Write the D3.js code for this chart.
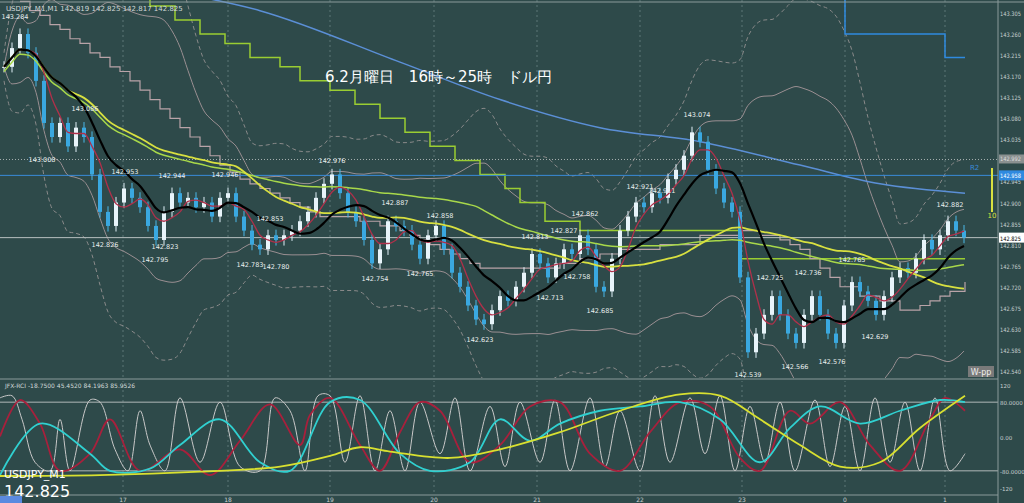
<!DOCTYPE html><html><head><meta charset="utf-8">
<script src="https://cdn.jsdelivr.net/npm/d3@7"></script>
<style>body{margin:0;background:#2e4a4a;overflow:hidden}text{font-family:"DejaVu Sans",sans-serif}</style></head><body>
<svg id="c" width="1024" height="503"></svg>
<script>
const closes=[143.19,143.23,143.26,143.22,143.16,143.07,143.04,143.07,143.02,143.06,143.04,142.96,142.88,142.85,142.90,142.93,142.91,142.89,142.85,142.82,142.88,142.92,142.90,142.91,142.89,142.90,142.87,142.91,142.92,142.87,142.84,142.81,142.80,142.83,142.82,142.83,142.84,142.86,142.88,142.91,142.94,142.96,142.92,142.88,142.86,142.82,142.77,142.80,142.86,142.85,142.84,142.81,142.78,142.83,142.85,142.80,142.75,142.72,142.68,142.65,142.64,142.67,142.70,142.69,142.72,142.75,142.79,142.77,142.74,142.77,142.80,142.79,142.83,142.80,142.72,142.71,142.78,142.84,142.87,142.90,142.89,142.92,142.91,142.95,142.97,143.00,143.05,143.03,142.97,142.93,142.90,142.88,142.74,142.58,142.62,142.66,142.70,142.66,142.62,142.60,142.66,142.70,142.66,142.62,142.60,142.68,142.73,142.71,142.69,142.66,142.70,142.74,142.76,142.75,142.78,142.82,142.80,142.83,142.86,142.84,142.825];
const priceTicks=[143.305,143.260,143.215,143.170,143.125,143.080,143.035,142.990,142.945,142.900,142.855,142.810,142.765,142.720,142.675,142.630,142.585,142.540];
const timeLabels=[["17",123],["18",228],["19",330],["20",434],["21",537],["22",640],["23",742],["0",845],["1",945]];
const priceNotes=[[15,143.284,"143.284"],[85,143.086,"143.086"],[42,143.008,"143.008"],[125,142.953,"142.953"],[105,142.826,"142.826"],[172,142.944,"142.944"],[165,142.823,"142.823"],[155,142.795,"142.795"],[225,142.946,"142.946"],[250,142.783,"142.783"],[276,142.780,"142.780"],[270,142.853,"142.853"],[332,142.976,"142.976"],[375,142.754,"142.754"],[395,142.887,"142.887"],[420,142.765,"142.765"],[440,142.858,"142.858"],[480,142.623,"142.623"],[535,142.813,"142.813"],[550,142.713,"142.713"],[564,142.827,"142.827"],[585,142.862,"142.862"],[577,142.758,"142.758"],[600,142.685,"142.685"],[640,142.921,"142.921"],[662,142.911,"142.911"],[697,143.074,"143.074"],[748,142.549,"142.539"],[770,142.725,"142.725"],[795,142.566,"142.566"],[808,142.736,"142.736"],[832,142.576,"142.576"],[852,142.765,"142.765"],[875,142.629,"142.629"],[950,142.882,"142.882"]];
const greenStep=[[150,143.40],[150,143.32],[175,143.32],[175,143.29],[200,143.29],[200,143.26],[225,143.26],[225,143.24],[250,143.24],[250,143.21],[280,143.21],[280,143.19],[300,143.19],[300,143.16],[330,143.16],[330,143.14],[355,143.14],[355,143.11],[380,143.11],[380,143.08],[405,143.08],[405,143.05],[430,143.05],[430,143.02],[455,143.02],[455,142.99],[480,142.99],[480,142.96],[505,142.96],[505,142.93],[520,142.93],[520,142.90],[545,142.90],[545,142.86],[580,142.86],[580,142.84],[740,142.84],[740,142.78],[965,142.78]];
const pinkStep=[[20,143.33],[30,143.31],[40,143.30],[50,143.28],[60,143.27],[70,143.25],[80,143.24],[90,143.22],[100,143.21],[110,143.19],[120,143.18],[130,143.16],[140,143.14],[150,143.12],[160,143.10],[170,143.08],[180,143.06],[190,143.04],[200,143.02],[210,143.00],[220,142.98],[230,142.965],[240,142.95],[250,142.94],[260,142.93],[270,142.92],[280,142.91],[290,142.90],[300,142.89],[310,142.88],[320,142.87],[340,142.87],[360,142.86],[380,142.85],[400,142.84],[410,142.83],[420,142.82],[430,142.81],[440,142.80],[450,142.79],[460,142.78],[470,142.77],[480,142.76],[540,142.76],[560,142.77],[580,142.78],[600,142.79],[620,142.80],[660,142.81],[700,142.83],[740,142.84],[760,142.83],[780,142.82],[790,142.81],[800,142.80],[810,142.78],[820,142.76],[830,142.74],[840,142.72],[860,142.70],[880,142.69],[900,142.67],[920,142.68],[930,142.69],[940,142.70],[950,142.71],[965,142.73]];
const blueMA=[[0,143.42],[150,143.36],[260,143.31],[400,143.20],[500,143.12],[600,143.06],[700,143.03],[800,142.98],[880,142.94],[965,142.92]];
const blueTop=[[845,143.40],[845,143.26],[945,143.26],[945,143.21],[965,143.21]];
const rciYellow=[[0,-92],[100,-90],[200,-82],[280,-70],[330,-45],[360,-25],[390,-35],[450,-50],[500,-30],[560,10],[620,60],[680,98],[720,95],[760,40],[800,-20],[840,-70],[880,-60],[920,20],[965,95]];
const rciCyan=[[0,-90],[40,30],[90,-40],[110,-80],[150,-75],[180,-20],[220,40],[260,-60],[290,-80],[330,80],[360,85],[400,-40],[430,-80],[470,-60],[500,40],[530,-10],[560,30],[600,60],[640,70],[680,80],[720,40],[760,-60],[790,20],[820,70],[860,30],[900,60],[940,85],[965,80]];
const rciRed=[[0,0],[20,85],[40,30],[60,-80],[90,-40],[110,40],[140,-80],[180,-30],[210,-90],[240,-10],[270,75],[300,-20],[310,50],[330,90],[360,-20],[380,-80],[400,10],[420,80],[440,60],[470,-60],[500,-20],[530,70],[560,80],[590,-40],[620,-80],[650,10],[680,80],[710,70],[740,-50],[760,-80],[790,60],[810,30],[840,80],[870,-20],[900,-80],[930,40],[945,90],[965,60]];
const rciWhite=[[0,90],[12,95],[22,40],[35,-60],[50,-80],[60,40],[70,-80],[90,85],[100,80],[115,-30],[128,-80],[140,60],[150,-20],[165,-80],[180,90],[200,-60],[220,80],[240,-70],[260,-80],[275,90],[290,60],[305,-80],[318,95],[330,95],[345,-60],[360,95],[375,-80],[390,60],[405,-80],[420,80],[440,-40],[455,90],[470,-80],[490,70],[505,-70],[520,80],[540,-60],[555,85],[570,-80],[590,90],[605,-70],[620,60],[640,-80],[655,95],[670,-60],[690,90],[705,-40],[720,95],[735,-80],[750,70],[765,-60],[780,80],[795,-80],[815,85],[830,-70],[845,70],[860,-80],[875,90],[890,-60],[905,80],[920,-80],[935,90],[950,-80],[965,-40]];

const svg=d3.select("#c");
const W=998;
const y=d3.scaleLinear().domain([142.540,143.305]).range([371,13]);
const ys=d3.scaleLinear().domain([-120,120]).range([488,385]);
svg.append("rect").attr("width",1024).attr("height",503).attr("fill","#2e4a4a");
svg.append("clipPath").attr("id","mc").append("rect").attr("x",0).attr("y",0).attr("width",W).attr("height",378);
svg.append("clipPath").attr("id","sc").append("rect").attr("x",0).attr("y",381).attr("width",W).attr("height",113);
const m=svg.append("g").attr("clip-path","url(#mc)");
const s=svg.append("g").attr("clip-path","url(#sc)");
timeLabels.forEach(([t,x])=>{
 [m,s].forEach(g=>g.append("line").attr("x1",x).attr("x2",x).attr("y1",0).attr("y2",503).attr("stroke","#5d7777").attr("stroke-dasharray","2,3"));
});
svg.append("line").attr("x1",W).attr("x2",W).attr("y1",0).attr("y2",503).attr("stroke","#8a9a9a");
svg.append("line").attr("x1",0).attr("x2",W).attr("y1",379).attr("y2",379).attr("stroke","#8a9a9a");
svg.append("line").attr("x1",0).attr("x2",W).attr("y1",495).attr("y2",495).attr("stroke","#8a9a9a");
svg.append("line").attr("x1",0).attr("x2",1024).attr("y1",2).attr("y2",2).attr("stroke","#8a9a9a");
const xi=i=>i*8+4;
const ma=(p)=>closes.map((c,i)=>d3.mean(closes.slice(Math.max(0,i-p+1),i+1)));
const sd=(p)=>closes.map((c,i)=>d3.deviation(closes.slice(Math.max(0,i-p+1),i+1))||0);
const line=d3.line().curve(d3.curveMonotoneX);
const maLine=(arr,col,w,dash)=>m.append("path").attr("d",line(arr.map((v,i)=>[xi(i),y(v)]))).attr("fill","none").attr("stroke",col).attr("stroke-width",w).attr("stroke-dasharray",dash||null);
const b=ma(21),sdv=sd(21);
maLine(b.map((v,i)=>v+2*sdv[i]),"#9a8f92",1);
maLine(b.map((v,i)=>v-2*sdv[i]),"#9a8f92",1);
maLine(b.map((v,i)=>v+3*sdv[i]+0.03),"#8a8a8a",1,"4,3");
maLine(b.map((v,i)=>v-3*sdv[i]-0.03),"#8a8a8a",1,"4,3");
const pl=d3.line();
m.append("path").attr("d",pl(greenStep.map(d=>[d[0],y(d[1])]))).attr("fill","none").attr("stroke","#9acd32").attr("stroke-width",1.5);
m.append("path").attr("d",d3.line().curve(d3.curveStepAfter)(pinkStep.map(d=>[d[0],y(d[1])]))).attr("fill","none").attr("stroke","#b9a3a8").attr("stroke-width",1.2);
m.append("path").attr("d",line(blueMA.map(d=>[d[0],y(d[1])]))).attr("fill","none").attr("stroke","#5b8fd6").attr("stroke-width",1.5);
m.append("path").attr("d",pl(blueTop.map(d=>[d[0],y(d[1])]))).attr("fill","none").attr("stroke","#2f8ae0").attr("stroke-width",1.5);
m.append("line").attr("x1",0).attr("x2",W).attr("y1",y(142.992)).attr("y2",y(142.992)).attr("stroke","#a8b0b0").attr("stroke-dasharray","1,2");
m.append("line").attr("x1",0).attr("x2",W).attr("y1",y(142.958)).attr("y2",y(142.958)).attr("stroke","#3a8ad8");
m.append("line").attr("x1",0).attr("x2",W).attr("y1",y(142.825)).attr("y2",y(142.825)).attr("stroke","#b8c0c0");
closes.forEach((c,i)=>{
 const o=i?closes[i-1]:c;const hi=Math.max(o,c)+0.012,lo=Math.min(o,c)-0.012;
 const up=c>=o;
 m.append("line").attr("x1",xi(i)).attr("x2",xi(i)).attr("y1",y(hi)).attr("y2",y(lo)).attr("stroke",up?"#e0f0f8":"#4ab8e8");
 m.append("rect").attr("x",xi(i)-2).attr("width",4).attr("y",y(Math.max(o,c))).attr("height",Math.max(1,Math.abs(y(o)-y(c)))).attr("fill",up?"#e8f4fa":"#3aa8e0");
});
maLine(ma(60).map((v,i)=>v-0.01),"#a8d84a",1.5);
maLine(ma(30),"#d8e040",1.8);
maLine(ma(4),"#b0304a",1.3);
maLine(ma(9),"#000000",2.2);
const above=[142.953,142.944,142.946,142.853,142.887,142.858,142.813,142.827,142.862,142.921,142.911,142.725,142.736,142.765,142.882,143.284,143.086,142.976,143.074];
priceNotes.forEach(([x,v,t])=>{
 const hi=above.includes(v)&&!(x===420);
 m.append("text").attr("x",x).attr("y",y(v)+(hi?-4:10)).attr("text-anchor","middle").attr("font-size",6.5).attr("fill","#e8eeee").text(t);
});
m.append("text").attr("x",6).attr("y",11).attr("font-size",7).attr("fill","#d0d8d8").text("USDJPY_M1,M1  142.819 142.825 142.817 142.825");
m.append("text").attr("x",325).attr("y",82).attr("font-size",15).attr("fill","#ffffff").attr("font-family","Noto Sans CJK JP").text("6.2月曜日　16時～25時　ドル円");
m.append("text").attr("x",970).attr("y",y(142.97)).attr("font-size",7).attr("fill","#3a8ad8").text("R2");
m.append("rect").attr("x",968).attr("y",366).attr("width",26).attr("height",11).attr("fill","#7a7a7a");
m.append("text").attr("x",981).attr("y",375).attr("text-anchor","middle").attr("font-size",8).attr("fill","#eee").text("W-pp");
svg.append("line").attr("x1",992).attr("x2",992).attr("y1",168).attr("y2",212).attr("stroke","#d8e040").attr("stroke-width",2);
svg.append("text").attr("x",992).attr("y",218).attr("text-anchor","middle").attr("font-size",7).attr("fill","#d8e040").text("10");
const ax=(t,yy,col,fs)=>svg.append("text").attr("x",1000).attr("y",yy).attr("font-size",fs||6).attr("textLength",21).attr("lengthAdjust","spacingAndGlyphs").attr("fill",col||"#c8d0d0").text(t);
priceTicks.forEach(v=>ax(v.toFixed(3),y(v)+3));
svg.append("rect").attr("x",999).attr("y",y(142.992)-5).attr("width",25).attr("height",9).attr("fill","#8a9090");
ax("142.992",y(142.992)+2,"#ddd");
svg.append("rect").attr("x",999).attr("y",y(142.958)-5).attr("width",25).attr("height",10).attr("fill","#2f8ae0");
ax("142.958",y(142.958)+3,"#fff");
svg.append("rect").attr("x",999).attr("y",y(142.825)-5).attr("width",25).attr("height",10).attr("fill","#ffffff");
ax("142.825",y(142.825)+3,"#000");
[80,-80].forEach(v=>s.append("line").attr("x1",0).attr("x2",W).attr("y1",ys(v)).attr("y2",ys(v)).attr("stroke","#b0b8b8"));
[["120",120],["80.0000",80],["0.00",0],["-80.0000",-80],["-120",-120]].forEach(([t,v])=>svg.append("text").attr("x",1000).attr("y",ys(v)+3).attr("font-size",5.5).attr("fill","#c8d0d0").text(t));
const sl=d3.line().curve(d3.curveCatmullRom);
const sp=(arr,col,w)=>s.append("path").attr("d",sl(arr.map(d=>[d[0],ys(d[1])]))).attr("fill","none").attr("stroke",col).attr("stroke-width",w);
sp(rciWhite,"#c8c8c8",1);
sp(rciRed,"#a8203c",1.8);
sp(rciCyan,"#30d0d0",1.8);
sp(rciYellow,"#d8e030",1.8);
s.append("text").attr("x",5).attr("y",388).attr("font-size",6).attr("fill","#d0d8d8").text("JFX-RCI -18.7500 45.4520 84.1963 85.9526");
svg.append("text").attr("x",4).attr("y",478).attr("font-size",11).attr("fill","#fff").text("USDJPY_M1");
svg.append("text").attr("x",4).attr("y",497).attr("font-size",16).attr("fill","#fff").text("142.825");
svg.append("rect").attr("x",0).attr("y",496).attr("width",22).attr("height",7).attr("fill","#5a8ae0");
timeLabels.forEach(([t,x])=>svg.append("text").attr("x",x).attr("y",502).attr("text-anchor","middle").attr("font-size",6).attr("fill","#c8d0d0").text(t));
</script></body></html>
